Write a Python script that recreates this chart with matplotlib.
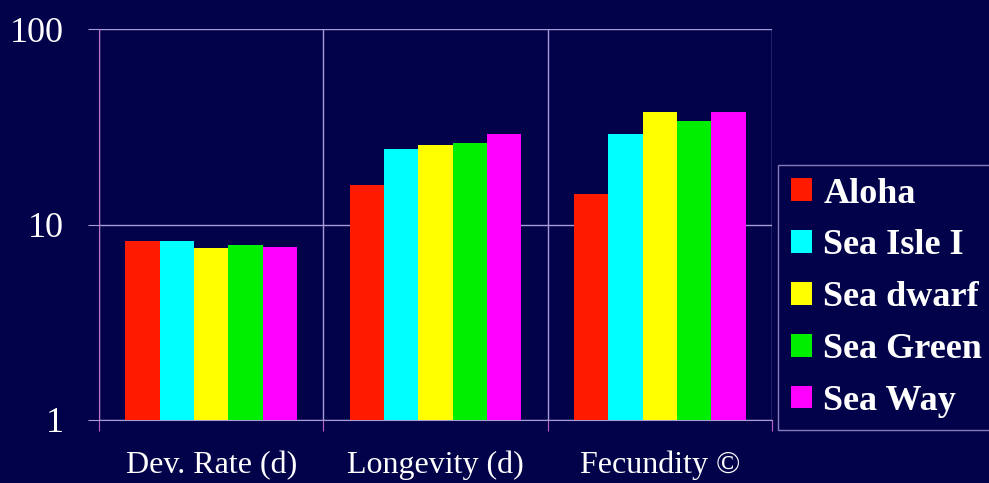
import matplotlib.pyplot as plt
import numpy as np

# data (log scale)
categories = ['Dev. Rate (d)', 'Longevity (d)', 'Fecundity ©']
varieties = ['Aloha', 'Sea Isle I', 'Sea dwarf', 'Sea Green', 'Sea Way']
aloha = [8.2, 15.9, 14.4]
sea_isle = [8.2, 24.3, 29.0]
sea_dwarf = [7.6, 25.4, 37.8]
sea_green = [7.85, 26.2, 33.7]
sea_way = [7.7, 28.9, 37.8]
series = [aloha, sea_isle, sea_dwarf, sea_green, sea_way]
colors = ['#ff1a00', '#00ffff', '#ffff00', '#00ee00', '#ff00ff']
yticks = [1, 10, 100]
ytick_labels = ['1', '10', '100']

bg = '#02024a'
grid_col = '#a89cd8'

plt.rcParams['font.family'] = ['Liberation Serif', 'DejaVu Serif']

fig = plt.figure(figsize=(9.89, 4.83), dpi=100, facecolor=bg)
ax = fig.add_axes([99/989, 63/483, 673/989, 391/483], facecolor=bg)

x = np.arange(len(categories))
w = 0.153
for i, (vals, c) in enumerate(zip(series, colors)):
    ax.bar(x + (i - 2) * w, vals, width=w, color=c, label=varieties[i], zorder=3)

ax.set_yscale('log')
ax.set_ylim(1, 100)
ax.set_xlim(-0.5, len(categories) - 0.5)
ax.set_yticks(yticks)
ax.set_yticklabels(ytick_labels)
ax.yaxis.set_minor_locator(plt.NullLocator())

# boundaries as major ticks, category names as minor ticks
ax.set_xticks(np.arange(len(categories) + 1) - 0.5)
ax.set_xticklabels([])
ax.set_xticks(x, minor=True)
ax.set_xticklabels(categories, minor=True)

ax.grid(True, which='major', color=grid_col, linewidth=1, zorder=0)
ax.tick_params(axis='y', which='major', length=8, color=grid_col, labelcolor='white',
               labelsize=26, pad=17)
ax.tick_params(axis='x', which='major', length=8, color='#c060c0', direction='out')
ax.tick_params(axis='x', which='minor', length=0, labelcolor='white', labelsize=23, pad=22)

for s in ['top', 'right']:
    ax.spines[s].set_visible(False)
ax.spines['left'].set_color('#c070c8')
ax.spines['bottom'].set_color(grid_col)

leg = fig.legend(loc='upper left', bbox_to_anchor=(778/989, 1 - 165/483),
                 prop={'family': 'Liberation Serif', 'weight': 'bold', 'size': 26},
                 frameon=True, fancybox=False, facecolor=bg, edgecolor=grid_col,
                 handlelength=0.6, handleheight=0.6, handletextpad=0.3,
                 labelspacing=0.52, borderpad=0.35, borderaxespad=0)
for t in leg.get_texts():
    t.set_color('white')

plt.savefig('out.png', dpi=100, facecolor=bg)
